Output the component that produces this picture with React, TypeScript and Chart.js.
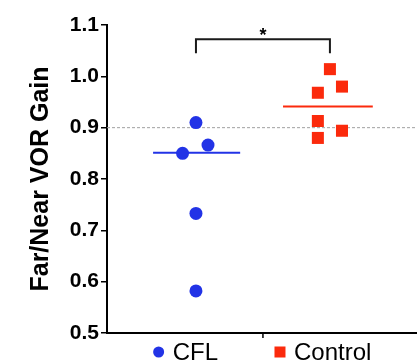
import React, { useEffect, useRef } from 'react';
import { Chart, registerables } from 'chart.js';

Chart.register(...registerables);

// ---- data ----
const CATEGORIES = ['CFL', 'Control'];
const CFL_VALUES = [0.91, 0.866, 0.85, 0.733, 0.582];
const CFL_JITTER = [0, 0.09, -0.1, 0, 0];
const CONTROL_VALUES = [1.014, 0.98, 0.968, 0.913, 0.894, 0.88];
const CONTROL_JITTER = [0, 0.09, -0.09, -0.09, 0.09, -0.09];
const MEDIANS = [0.851, 0.941];
const Y_TICKS = [0.5, 0.6, 0.7, 0.8, 0.9, 1.0, 1.1];
const REFERENCE_LINE = 0.9;
const SIGNIFICANCE_LABEL = '*';
const BRACKET_TOP = 1.072;
const BRACKET_LEG = 1.045;

// ---- style ----
const BLUE = '#2233e6';
const RED = '#fb2a0c';
const FONT = '"Liberation Sans", Arial, Helvetica, sans-serif';

const overlayPlugin = {
  id: 'overlay',
  beforeDatasetsDraw(chart: any) {
    const { ctx, chartArea, scales } = chart;
    const y = scales.y.getPixelForValue(REFERENCE_LINE);
    ctx.save();
    ctx.strokeStyle = '#a0a0a0';
    ctx.lineWidth = 1;
    ctx.setLineDash([3, 2]);
    ctx.beginPath();
    ctx.moveTo(chartArea.left, y);
    ctx.lineTo(chartArea.right, y);
    ctx.stroke();
    ctx.restore();
  },
  afterDraw(chart: any) {
    const { ctx, chartArea, scales } = chart;
    const xs = scales.x;
    const ys = scales.y;
    ctx.save();
    // x axis tick between groups
    const xt = xs.getPixelForValue(1.5);
    ctx.strokeStyle = '#000';
    ctx.lineWidth = 1.5;
    ctx.beginPath();
    ctx.moveTo(xt, chartArea.bottom);
    ctx.lineTo(xt, chartArea.bottom + 5);
    ctx.stroke();

    // significance bracket
    const x1 = xs.getPixelForValue(1);
    const x2 = xs.getPixelForValue(2);
    const yt = ys.getPixelForValue(BRACKET_TOP);
    const yl = ys.getPixelForValue(BRACKET_LEG);
    ctx.strokeStyle = '#1a1a1a';
    ctx.lineWidth = 2;
    ctx.beginPath();
    ctx.moveTo(x1, yl);
    ctx.lineTo(x1, yt);
    ctx.lineTo(x2, yt);
    ctx.lineTo(x2, yl);
    ctx.stroke();
    ctx.fillStyle = '#000';
    ctx.font = `bold 18px ${FONT}`;
    ctx.textAlign = 'center';
    ctx.textBaseline = 'alphabetic';
    ctx.fillText(SIGNIFICANCE_LABEL, (x1 + x2) / 2, yt + 2);

    // legend
    const colors = [BLUE, RED];
    const styles = ['circle', 'rect'];
    ctx.font = `24px ${FONT}`;
    const markerW = 12;
    const markerGap = 8;
    const itemGap = 56;
    const widths = CATEGORIES.map((c) => markerW + markerGap + ctx.measureText(c).width);
    const total = widths.reduce((a, b) => a + b, 0) + itemGap * (CATEGORIES.length - 1);
    const cx = (chartArea.left + chartArea.right) / 2;
    let x = cx - total / 2;
    const ly = chartArea.bottom + 19;
    ctx.textAlign = 'left';
    ctx.textBaseline = 'middle';
    CATEGORIES.forEach((c, i) => {
      ctx.fillStyle = colors[i];
      const mx = x + markerW / 2;
      if (styles[i] === 'circle') {
        ctx.beginPath();
        ctx.arc(mx, ly, 5.5, 0, Math.PI * 2);
        ctx.fill();
      } else {
        ctx.fillRect(mx - 5.5, ly - 5.5, 11, 11);
      }
      ctx.fillStyle = '#000';
      ctx.fillText(c, x + markerW + markerGap, ly + 1);
      x += widths[i] + itemGap;
    });
    ctx.restore();
  },
};

export default function App() {
  const ref = useRef<HTMLCanvasElement>(null);

  useEffect(() => {
    document.body.style.margin = '0';
    const canvas = ref.current!;
    const chart = new Chart(canvas, {
      type: 'scatter',
      data: {
        datasets: [
          {
            label: CATEGORIES[0],
            data: CFL_VALUES.map((v, i) => ({ x: 1 + CFL_JITTER[i], y: v })),
            pointStyle: 'circle',
            pointRadius: 6.5,
            backgroundColor: BLUE,
            borderColor: BLUE,
            borderWidth: 0,
          },
          {
            label: CATEGORIES[1],
            data: CONTROL_VALUES.map((v, i) => ({ x: 2 + CONTROL_JITTER[i], y: v })),
            pointStyle: 'rect',
            pointRadius: 8.5,
            backgroundColor: RED,
            borderColor: RED,
            borderWidth: 0,
          },
          {
            label: 'CFL median',
            data: [
              { x: 1 - 0.32, y: MEDIANS[0] },
              { x: 1 + 0.33, y: MEDIANS[0] },
            ],
            showLine: true,
            pointRadius: 0,
            borderColor: BLUE,
            borderWidth: 2,
          },
          {
            label: 'Control median',
            data: [
              { x: 2 - 0.35, y: MEDIANS[1] },
              { x: 2 + 0.32, y: MEDIANS[1] },
            ],
            showLine: true,
            pointRadius: 0,
            borderColor: RED,
            borderWidth: 2,
          },
        ],
      },
      options: {
        animation: false,
        responsive: false,
        maintainAspectRatio: false,
        layout: { autoPadding: false, padding: { top: 25, bottom: 26, left: 0, right: 0 } },
        plugins: {
          legend: { display: false },
          tooltip: { enabled: false },
        },
        scales: {
          x: {
            type: 'linear',
            min: 0.336,
            max: 2.65,
            ticks: { display: false },
            grid: { display: false },
            border: { display: true, color: '#000', width: 2 },
            afterFit: (s: any) => {
              s.height = 5;
            },
          },
          y: {
            min: 0.5,
            max: 1.1,
            afterBuildTicks: (s: any) => {
              s.ticks = Y_TICKS.map((v) => ({ value: v }));
            },
            ticks: {
              callback: (v: any) => Number(v).toFixed(1),
              font: { family: FONT, size: 21, weight: 'bold' },
              color: '#000',
              padding: 2,
            },
            grid: {
              drawOnChartArea: false,
              drawTicks: true,
              tickLength: 6,
              color: '#000',
              lineWidth: 1.5,
            },
            border: { display: true, color: '#000', width: 2 },
            title: {
              display: true,
              text: 'Far/Near VOR Gain',
              font: { family: FONT, size: 25, weight: 'bold' },
              color: '#000',
              padding: { top: 26, bottom: 0 },
            },
            afterFit: (s: any) => {
              s.width = 107;
            },
          },
        },
      },
      plugins: [overlayPlugin],
    });
    return () => chart.destroy();
  }, []);

  return <canvas ref={ref} width={417} height={364} style={{ display: 'block' }} />;
}
